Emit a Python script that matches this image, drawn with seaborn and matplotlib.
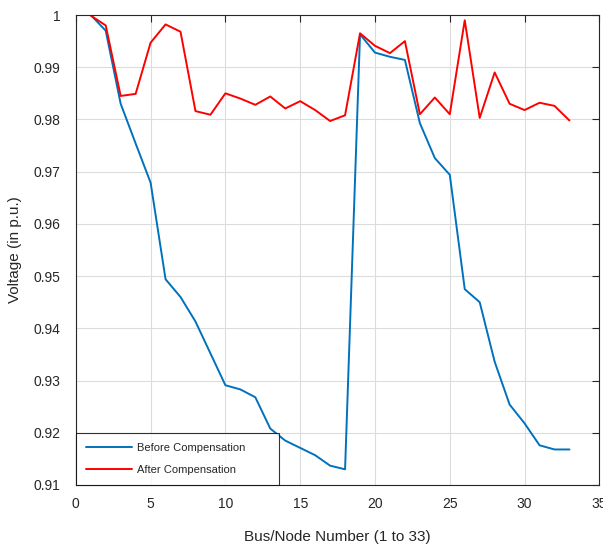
import numpy as np
import pandas as pd
import seaborn as sns
import matplotlib
matplotlib.use("Agg")
from matplotlib import pyplot as plt

# Bus numbers 1..33
bus = list(range(1, 34))

# Voltage profile
before = [1.0000, 0.9970, 0.9830, 0.9754, 0.9679, 0.9494, 0.9460, 0.9413,
          0.9352, 0.9291, 0.9283, 0.9268, 0.9208, 0.9185, 0.9171, 0.9157,
          0.9137, 0.9130, 0.9963, 0.9928, 0.9920, 0.9914, 0.9793, 0.9726,
          0.9694, 0.9475, 0.9450, 0.9336, 0.9254, 0.9218, 0.9176, 0.9168,
          0.9168]
after = [0.9999, 0.9980, 0.9845, 0.9849, 0.9947, 0.9982, 0.9968, 0.9816,
         0.9809, 0.9850, 0.9840, 0.9828, 0.9844, 0.9821, 0.9835, 0.9818,
         0.9797, 0.9808, 0.9965, 0.9941, 0.9927, 0.9950, 0.9810, 0.9842,
         0.9810, 0.9990, 0.9803, 0.9890, 0.9830, 0.9818, 0.9832, 0.9826,
         0.9798]

xticks = [0, 5, 10, 15, 20, 25, 30, 35]
yticks = [0.91, 0.92, 0.93, 0.94, 0.95, 0.96, 0.97, 0.98, 0.99, 1.0]
ylabels = ['0.91', '0.92', '0.93', '0.94', '0.95', '0.96', '0.97', '0.98', '0.99', '1']

df = pd.DataFrame({'Bus': bus * 2,
                   'Voltage': before + after,
                   'Case': ['Before Compensation'] * 33 + ['After Compensation'] * 33})

sns.set_style('whitegrid')
plt.rcParams['font.family'] = ['Liberation Sans', 'DejaVu Sans']

fig = plt.figure(figsize=(6.03, 5.44), dpi=100)
ax = fig.add_axes([0.1257, 0.1085, 0.8683, 0.8639])

sns.lineplot(data=df, x='Bus', y='Voltage', hue='Case',
             palette={'Before Compensation': '#0072BD', 'After Compensation': '#FF0000'},
             linewidth=1.4, ax=ax)

ax.set_xlim(0, 35)
ax.set_ylim(0.91, 1.0)
ax.set_xticks(xticks)
ax.set_yticks(yticks)
ax.set_yticklabels(ylabels)
ax.grid(True, color='#dcdcdc', linewidth=0.8)
ax.tick_params(direction='in', length=5, width=0.8, colors='#262626',
               top=True, right=True, labelsize=10)
ax.tick_params(axis='y', pad=11)
ax.tick_params(axis='x', pad=9)
for s in ax.spines.values():
    s.set_visible(True)
    s.set_color('#262626')
    s.set_linewidth(0.8)

ax.set_xlabel('Bus/Node Number (1 to 33)', fontsize=11, labelpad=13)
ax.set_ylabel('Voltage (in p.u.)', fontsize=11, labelpad=8)

# legend box spans about 203 px of the 524 px axes width
leg = ax.legend(loc='lower left', fontsize=8, handlelength=4.2, handletextpad=0.4,
                frameon=True, fancybox=False, borderaxespad=0, borderpad=0.9,
                labelspacing=1.1, mode='expand',
                bbox_to_anchor=(0, 0, 0.388, 0.11))
leg.get_frame().set_edgecolor('black')
leg.get_frame().set_linewidth(0.8)
leg.set_title(None)

fig.savefig('out.png', dpi=100)
